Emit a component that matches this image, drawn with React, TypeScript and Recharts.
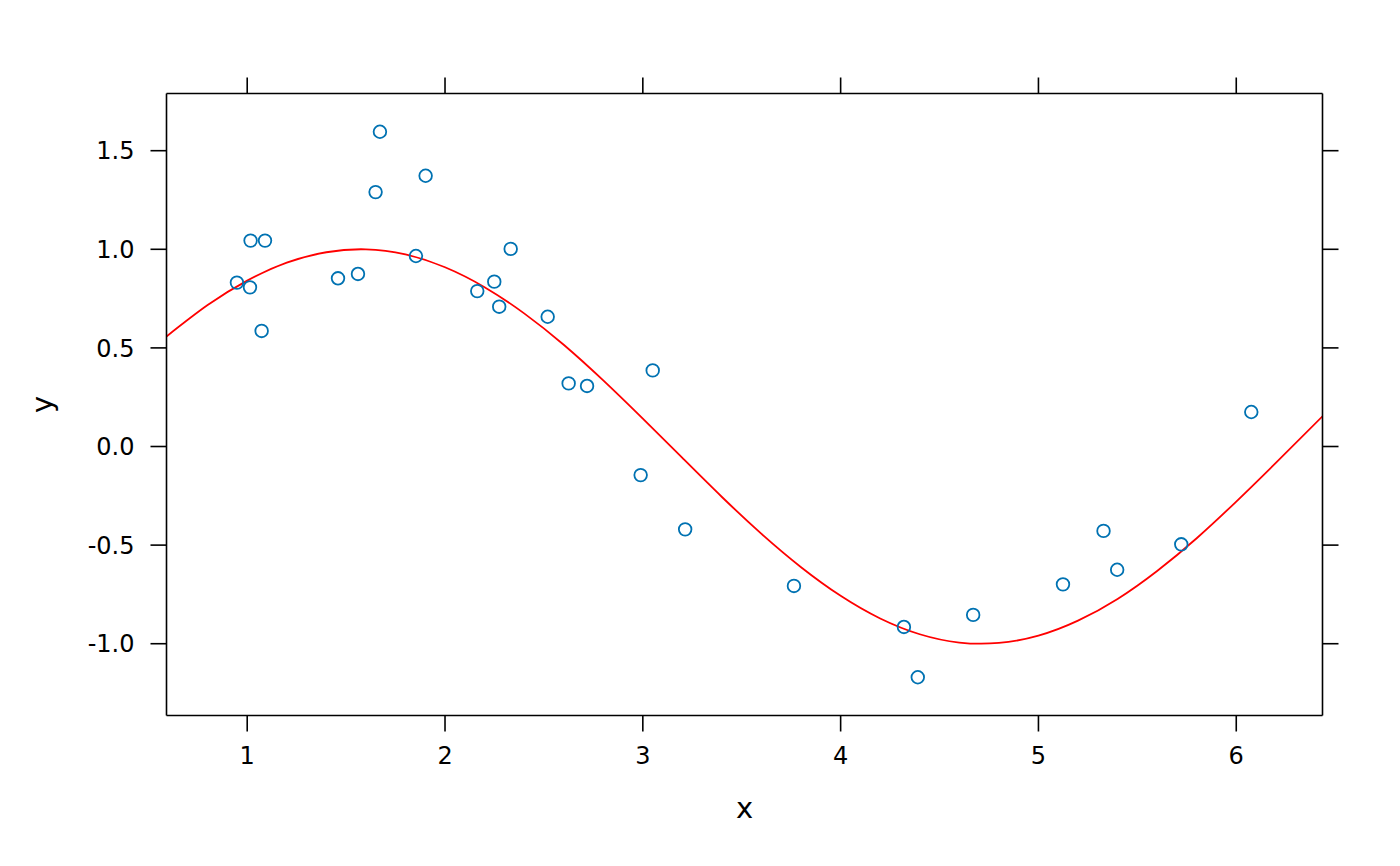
import { ComposedChart, XAxis, YAxis, Scatter, Line, Label } from 'recharts'

// tick positions
const xTicks = [1, 2, 3, 4, 5, 6]
const yTicks = [-1, -0.5, 0, 0.5, 1, 1.5]

// observed points (open circles)
const pointX = [
  0.948, 1.014, 1.017, 1.073, 1.090, 1.459, 1.560, 1.649, 1.671, 1.853,
  1.902, 2.163, 2.249, 2.274, 2.332, 2.519, 2.625, 2.718, 2.989, 3.050,
  3.214, 3.764, 4.320, 4.390, 4.670, 5.124, 5.329, 5.398, 5.722, 6.076,
]
const pointY = [
  0.831, 0.807, 1.044, 0.586, 1.044, 0.853, 0.875, 1.290, 1.596, 0.966,
  1.373, 0.788, 0.836, 0.709, 1.002, 0.658, 0.320, 0.307, -0.145, 0.386,
  -0.420, -0.707, -0.915, -1.170, -0.854, -0.699, -0.428, -0.625, -0.496, 0.175,
]

// red reference curve
const curveX = [
  0.592, 0.8, 1.0, 1.2, 1.4, 1.6, 1.8, 2.0, 2.2, 2.4, 2.6, 2.8, 3.0, 3.2, 3.4,
  3.6, 3.8, 4.0, 4.2, 4.4, 4.6, 4.8, 5.0, 5.2, 5.4, 5.6, 5.8, 6.0, 6.2, 6.436,
]
const curveY = [
  0.558, 0.717, 0.841, 0.932, 0.985, 1.0, 0.974, 0.909, 0.808, 0.675, 0.516, 0.335, 0.141, -0.058, -0.256,
  -0.443, -0.612, -0.757, -0.872, -0.952, -0.994, -0.996, -0.959, -0.883, -0.773, -0.631, -0.465, -0.279, -0.083, 0.153,
]

const points = pointX.map((x, i) => ({ x, y: pointY[i] }))
const curve = curveX.map((x, i) => ({ x, y: curveY[i] }))

const FONT = '"DejaVu Sans", Verdana, sans-serif'
const INK = '#000'
const SW = 1.6
const TICK = 16
const line = { stroke: INK, strokeWidth: SW }
const xDomain = [0.592, 6.436]
const yDomain = [-1.364, 1.79]

// tick marks drawn by hand inside the tick renderers (anchor = label position)
const BottomTick = (p: any) => (
  <g>
    <line x1={p.x} x2={p.x} y1={p.y - 31} y2={p.y - 31 + TICK} stroke={INK} strokeWidth={SW} />
    <text x={p.x} y={p.y + 17} textAnchor="middle" fontSize={24} fontFamily={FONT} fill={INK}>
      {p.payload.value}
    </text>
  </g>
)
const LeftTick = (p: any) => (
  <g>
    <line x1={p.x + 32} x2={p.x + 32 - TICK} y1={p.y} y2={p.y} stroke={INK} strokeWidth={SW} />
    <text x={p.x} y={p.y + 8.7} textAnchor="end" fontSize={24} fontFamily={FONT} fill={INK}>
      {Number(p.payload.value).toFixed(1)}
    </text>
  </g>
)
const TopTick = (p: any) => (
  <line x1={p.x} x2={p.x} y1={p.y} y2={p.y + TICK} stroke={INK} strokeWidth={SW} />
)
const RightTick = (p: any) => (
  <line x1={p.x - TICK} x2={p.x} y1={p.y} y2={p.y} stroke={INK} strokeWidth={SW} />
)

const XTitle = (props: any) => {
  const vb = props.viewBox ?? { x: 166.5, y: 715.5, width: 1156, height: 60 }
  return (
    <text x={vb.x + vb.width / 2} y={vb.y + vb.height + 42.5} textAnchor="middle"
      fontSize={29} fontFamily={FONT} fill={INK}>x</text>
  )
}

const YTitle = (props: any) => {
  const vb = props.viewBox ?? { x: 106.5, y: 93.5, width: 60, height: 622 }
  const cx = vb.x - 54.5
  const cy = vb.y + vb.height / 2
  return (
    <text x={cx} y={cy} textAnchor="middle" transform={`rotate(-90, ${cx}, ${cy})`}
      fontSize={29} fontFamily={FONT} fill={INK}>y</text>
  )
}

const Ring = (p: any) => (
  <circle cx={p.cx} cy={p.cy} r={6.3} fill="none" stroke="#0072B2" strokeWidth={1.8} />
)

export default function App() {
  return (
    <div style={{ position: 'absolute', left: 0, top: 0, background: '#fff' }}>
      <ComposedChart width={1400} height={866}
        margin={{ top: 73.5, right: 57.5, bottom: 90.5, left: 106.5 }}>
        <XAxis xAxisId="bottom" type="number" dataKey="x" domain={xDomain} allowDataOverflow
          ticks={xTicks} interval={0} height={60} tickSize={TICK} tickMargin={15}
          axisLine={line} tickLine={false} tick={<BottomTick />}>
          <Label content={<XTitle />} />
        </XAxis>
        <XAxis xAxisId="top" orientation="top" type="number" dataKey="x" domain={xDomain} allowDataOverflow
          ticks={xTicks} interval={0} height={20} tickSize={TICK} tickMargin={0}
          axisLine={line} tickLine={false} tick={<TopTick />} />
        <YAxis yAxisId="left" type="number" dataKey="y" domain={yDomain} allowDataOverflow
          ticks={yTicks} interval={0} width={60} tickSize={TICK} tickMargin={16}
          axisLine={line} tickLine={false} tick={<LeftTick />}>
          <Label content={<YTitle />} />
        </YAxis>
        <YAxis yAxisId="right" orientation="right" type="number" dataKey="y" domain={yDomain} allowDataOverflow
          ticks={yTicks} interval={0} width={20} tickSize={TICK} tickMargin={0}
          axisLine={line} tickLine={false} tick={<RightTick />} />
        <Line xAxisId="bottom" yAxisId="left" data={curve} dataKey="y" type="natural"
          stroke="#FF0000" strokeWidth={1.8} dot={false} activeDot={false} isAnimationActive={false} />
        <Scatter xAxisId="bottom" yAxisId="left" data={points} dataKey="y"
          shape={<Ring />} isAnimationActive={false} />
      </ComposedChart>
    </div>
  )
}
